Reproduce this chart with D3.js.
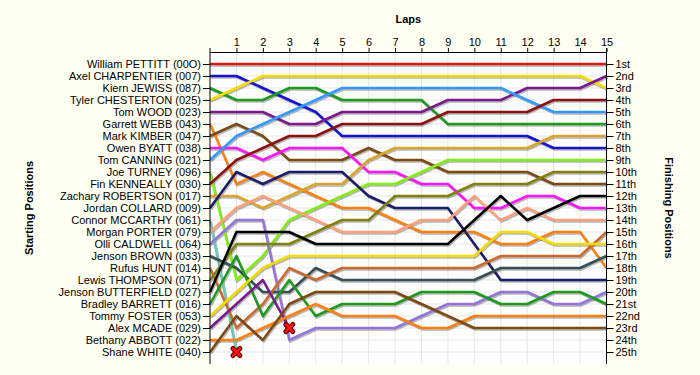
<!DOCTYPE html>
<html>
<head>
<meta charset="utf-8">
<script src="https://cdn.jsdelivr.net/npm/d3@7"></script>
<style>
  body { margin: 0; background: #fffff2; }
  svg { display: block; font-family: "Liberation Sans", Arial, sans-serif; }
  .axis text { font-size: 11px; fill: #000; }
  .axis path, .axis line { stroke: #000; }
  .title { font-size: 11px; font-weight: bold; }
</style>
</head>
<body>
<div id="chart"></div>
<script>
// lap numbers shown on top axis
var lapTicks = [1, 2, 3, 4, 5, 6, 7, 8, 9, 10, 11, 12, 13, 14, 15];

// drivers in starting order
var drivers = [
  "William PETTITT (00O)", "Axel CHARPENTIER (007)", "Kiern JEWISS (087)",
  "Tyler CHESTERTON (025)", "Tom WOOD (023)", "Garrett WEBB (043)",
  "Mark KIMBER (047)", "Owen BYATT (038)", "Tom CANNING (021)",
  "Joe TURNEY (096)", "Fin KENNEALLY (030)", "Zachary ROBERTSON (017)",
  "Jordan COLLARD (009)", "Connor MCCARTHY (061)", "Morgan PORTER (079)",
  "Olli CALDWELL (064)", "Jenson BROWN (033)", "Rufus HUNT (014)",
  "Lewis THOMPSON (071)", "Jenson BUTTERFIELD (027)", "Bradley BARRETT (016)",
  "Tommy FOSTER (053)", "Alex MCADE (029)", "Bethany ABBOTT (022)",
  "Shane WHITE (040)"
];

var finishLabels = ["1st", "2nd", "3rd", "4th", "5th", "6th", "7th", "8th", "9th",
  "10th", "11th", "12th", "13th", "14th", "15th", "16th", "17th", "18th", "19th",
  "20th", "21st", "22nd", "23rd", "24th", "25th"];

// position at lap 0..15, one row per driver (same order as drivers)
var positions = [
  [1, 1, 1, 1, 1, 1, 1, 1, 1, 1, 1, 1, 1, 1, 1, 1],
  [2, 2, 3, 4, 5, 7, 7, 7, 7, 7, 7, 7, 7, 8, 8, 8],
  [3, 4, 4, 3, 3, 4, 4, 4, 4, 6, 6, 6, 6, 6, 6, 6],
  [4, 3, 2, 2, 2, 2, 2, 2, 2, 2, 2, 2, 2, 2, 2, 3],
  [5, 5, 5, 6, 6, 5, 5, 5, 5, 4, 4, 4, 3, 3, 3, 2],
  [6, 11, 10, 11, 12, 13, 13, 14, 15, 15, 15, 16, 16, 15, 15, 18],
  [7, 6, 7, 9, 9, 9, 8, 9, 9, 10, 10, 10, 10, 11, 11, 11],
  [8, 8, 9, 8, 8, 8, 10, 10, 11, 11, 13, 13, 12, 12, 13, 13],
  [9, 7, 6, 5, 4, 3, 3, 3, 3, 3, 3, 3, 4, 5, 5, 5],
  [10, 19, 17, 14, 13, 12, 11, 11, 10, 9, 9, 9, 9, 9, 9, 9],
  [11, 9, 8, 7, 7, 6, 6, 6, 6, 5, 5, 5, 5, 4, 4, 4],
  [12, 12, 13, 12, 11, 11, 9, 8, 8, 8, 8, 8, 8, 7, 7, 7],
  [13, 10, 11, 10, 10, 10, 12, 13, 13, 13, 16, 19, 19, 19, 19, 19],
  [14, 25],
  [15, 13, 12, 13, 14, 15, 15, 15, 14, 14, 12, 14, 13, 14, 14, 14],
  [16, 14, 14, 24, 23, 23, 23, 23, 22, 21, 21, 20, 20, 21, 21, 20],
  [17, 18, 20, 20, 18, 19, 19, 19, 19, 19, 19, 18, 18, 18, 18, 17],
  [18, 23, 21, 18, 19, 18, 18, 18, 18, 18, 18, 17, 17, 17, 17, 15],
  [19, 16, 16, 16, 15, 14, 14, 12, 12, 12, 11, 11, 11, 10, 10, 10],
  [20, 15, 15, 15, 16, 16, 16, 16, 16, 16, 14, 12, 14, 13, 12, 12],
  [21, 17, 22, 19, 22, 21, 21, 21, 20, 20, 20, 21, 21, 20, 20, 21],
  [22, 20, 18, 17, 17, 17, 17, 17, 17, 17, 17, 15, 15, 16, 16, 16],
  [23, 21, 19, 23],
  [24, 24, 23, 22, 21, 22, 22, 22, 23, 23, 22, 22, 22, 22, 22, 22],
  [25, 22, 24, 21, 20, 20, 20, 20, 21, 22, 23, 23, 23, 23, 23, 23]
];

// drivers who retired (marked with a cross at their last point)
var retired = ["Connor MCCARTHY (061)", "Alex MCADE (029)"];

var lineColors = [
  "#e41414", "#1414d2", "#1c9a1c", "#f5dc00", "#7c1a8c", "#ff8010", "#7c4a12",
  "#ff14ff", "#3399ff", "#80ee10", "#8c1010", "#dca428", "#1c1c6c", "#6cc8b4",
  "#ffa07c", "#9474dc", "#345050", "#cc6a2c", "#808010", "#000000",
  "#1c9a1c", "#f5dc00", "#7c1a8c", "#ff8010", "#7c4a12"
];

var width = 700, height = 375;
var margin = {top: 52, right: 93.5, bottom: 11, left: 210};

var svg = d3.select("#chart").append("svg")
    .attr("width", width)
    .attr("height", height);

svg.append("rect")
    .attr("width", width).attr("height", height)
    .attr("fill", "#fffff2");

var x = d3.scaleLinear().domain([0, 15]).range([margin.left, width - margin.right]);
var y = d3.scaleLinear().domain([0, 26]).range([margin.top, height - margin.bottom]);

var ranks = d3.range(1, drivers.length + 1);

// plot background
svg.append("rect")
    .attr("x", x(0)).attr("y", y(0))
    .attr("width", x(15) - x(0)).attr("height", y(26) - y(0))
    .attr("fill", "#fff");

// grid
svg.append("g").selectAll("line")
    .data(lapTicks)
  .enter().append("line")
    .attr("x1", function(d) { return x(d); })
    .attr("x2", function(d) { return x(d); })
    .attr("y1", y(0)).attr("y2", y(26))
    .attr("stroke", "#e6e6e6");

svg.append("g").selectAll("line")
    .data(ranks)
  .enter().append("line")
    .attr("x1", x(0)).attr("x2", x(15))
    .attr("y1", function(d) { return y(d); })
    .attr("y2", function(d) { return y(d); })
    .attr("stroke", "#e6e6e6");

var line = d3.line()
    .x(function(d, i) { return x(i); })
    .y(function(d) { return y(d); });

// shadows first, then coloured lines
svg.append("g")
    .attr("transform", "translate(1,1.5)")
  .selectAll("path")
    .data(positions)
  .enter().append("path")
    .attr("d", line)
    .attr("fill", "none")
    .attr("stroke", "rgba(0,0,0,0.28)")
    .attr("stroke-width", 2.5);

svg.append("g").selectAll("path")
    .data(positions)
  .enter().append("path")
    .attr("d", line)
    .attr("fill", "none")
    .attr("stroke", function(d, i) { return lineColors[i]; })
    .attr("stroke-width", 2.5)
    .attr("stroke-linejoin", "round");

// retirement crosses
var crossPath = "M-3.5,-3.5L3.5,3.5M3.5,-3.5L-3.5,3.5";
var crosses = svg.append("g").selectAll("g")
    .data(retired)
  .enter().append("g")
    .attr("transform", function(name) {
      var p = positions[drivers.indexOf(name)];
      return "translate(" + x(p.length - 1) + "," + y(p[p.length - 1]) + ")";
    });
crosses.append("path").attr("d", crossPath)
    .attr("stroke", "#600").attr("stroke-width", 5).attr("stroke-linecap", "round");
crosses.append("path").attr("d", crossPath)
    .attr("stroke", "#ff1010").attr("stroke-width", 2.6).attr("stroke-linecap", "round");

// axes
svg.append("g")
    .attr("class", "axis")
    .attr("transform", "translate(0," + y(0) + ")")
    .call(d3.axisTop(x).tickValues(lapTicks).tickSize(4).tickSizeOuter(0).tickPadding(2))
    .call(function(g) { g.selectAll("text").style("font-size", "11px"); });

svg.append("g")
    .attr("class", "axis")
    .attr("transform", "translate(" + x(0) + ",0)")
    .call(d3.axisLeft(y).tickValues(ranks).tickSize(7).tickSizeOuter(0).tickPadding(2)
      .tickFormat(function(d) { return drivers[d - 1]; }))
    .call(function(g) { g.select(".domain").attr("d", "M0," + (y(0) - 4) + "V" + y(26)); });

svg.append("g")
    .attr("class", "axis")
    .attr("transform", "translate(" + x(15) + ",0)")
    .call(d3.axisRight(y).tickValues(ranks).tickSize(7).tickSizeOuter(0).tickPadding(2)
      .tickFormat(function(d) { return finishLabels[d - 1]; }))
    .call(function(g) { g.select(".domain").attr("d", "M0," + (y(0) - 4) + "V" + y(26)); });

// titles
svg.append("text")
    .attr("class", "title")
    .attr("x", (x(0) + x(15)) / 2).attr("y", 23)
    .attr("text-anchor", "middle")
    .text("Laps");

svg.append("text")
    .attr("class", "title")
    .attr("transform", "translate(33," + y(13) + ") rotate(-90)")
    .attr("text-anchor", "middle")
    .text("Starting Positions");

svg.append("text")
    .attr("class", "title")
    .attr("transform", "translate(665," + y(13) + ") rotate(90)")
    .attr("text-anchor", "middle")
    .text("Finishing Positions");
</script>
</body>
</html>
